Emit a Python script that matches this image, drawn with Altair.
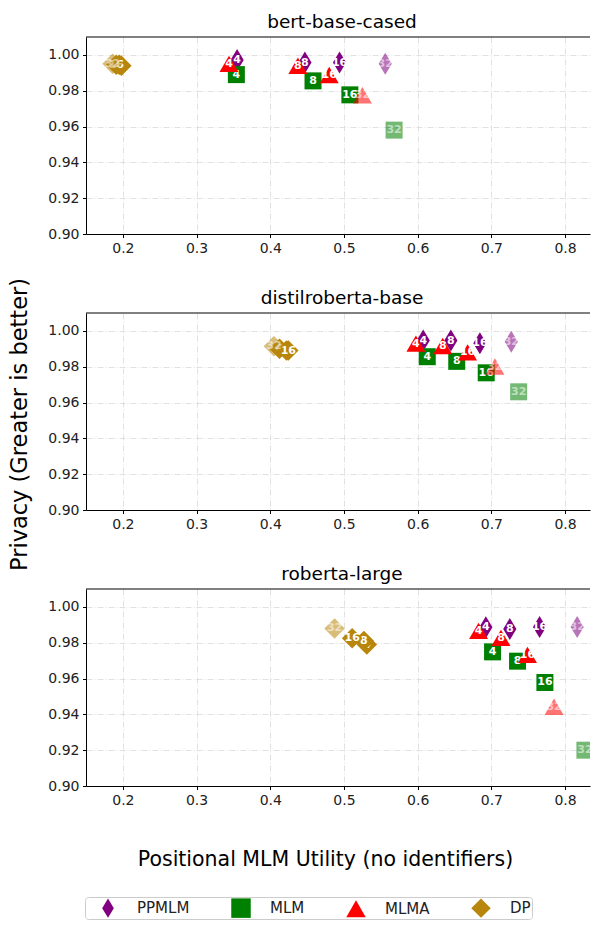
import altair as alt
import pandas as pd

models = ["bert-base-cased", "distilroberta-base", "roberta-large"]
methods = ["PPMLM", "MLM", "MLMA", "DP"]
k_values = [4, 8, 16, 32]
x_title = "Positional MLM Utility (no identifiers)"
y_title = "Privacy (Greater is better)"

# bert-base-cased  (utility x, privacy y) for k = 4, 8, 16, 32
bert_ppmlm_x = [0.355, 0.447, 0.494, 0.556]
bert_ppmlm_y = [0.9972, 0.9957, 0.9957, 0.9950]
bert_mlm_x = [0.354, 0.458, 0.508, 0.568]
bert_mlm_y = [0.9890, 0.9855, 0.9777, 0.9580]
bert_mlma_x = [0.344, 0.4375, 0.480, 0.525]
bert_mlma_y = [0.9950, 0.9939, 0.9888, 0.9775]
bert_dp_x = [0.198, 0.195, 0.191, 0.186]
bert_dp_y = [0.9940, 0.9945, 0.9945, 0.9950]

# distilroberta-base
distil_ppmlm_x = [0.6075, 0.645, 0.6844, 0.727]
distil_ppmlm_y = [0.9946, 0.9946, 0.9931, 0.9940]
distil_mlm_x = [0.613, 0.653, 0.693, 0.737]
distil_mlm_y = [0.9856, 0.9830, 0.9766, 0.9660]
distil_mlma_x = [0.5976, 0.634, 0.6677, 0.7048]
distil_mlma_y = [0.9929, 0.9916, 0.9880, 0.9801]
distil_dp_x = [0.4125, 0.422, 0.4245, 0.405]
distil_dp_y = [0.9900, 0.9890, 0.9890, 0.9915]

# roberta-large
large_ppmlm_x = [0.6925, 0.725, 0.7654, 0.8164]
large_ppmlm_y = [0.9887, 0.9876, 0.9888, 0.9888]
large_mlm_x = [0.7016, 0.7355, 0.7726, 0.8269]
large_mlm_y = [0.9749, 0.9697, 0.9578, 0.9200]
large_mlma_x = [0.6826, 0.713, 0.749, 0.785]
large_mlma_y = [0.9866, 0.9827, 0.9732, 0.9443]
large_dp_x = [0.531, 0.527, 0.5111, 0.4872]
large_dp_y = [0.9790, 0.9810, 0.9825, 0.9880]

x_ticks = [0.2, 0.3, 0.4, 0.5, 0.6, 0.7, 0.8]
y_ticks = [0.90, 0.92, 0.94, 0.96, 0.98, 1.00]

series = {
    "bert-base-cased": {
        "PPMLM": (bert_ppmlm_x, bert_ppmlm_y), "MLM": (bert_mlm_x, bert_mlm_y),
        "MLMA": (bert_mlma_x, bert_mlma_y), "DP": (bert_dp_x, bert_dp_y)},
    "distilroberta-base": {
        "PPMLM": (distil_ppmlm_x, distil_ppmlm_y), "MLM": (distil_mlm_x, distil_mlm_y),
        "MLMA": (distil_mlma_x, distil_mlma_y), "DP": (distil_dp_x, distil_dp_y)},
    "roberta-large": {
        "PPMLM": (large_ppmlm_x, large_ppmlm_y), "MLM": (large_mlm_x, large_mlm_y),
        "MLMA": (large_mlma_x, large_mlma_y), "DP": (large_dp_x, large_dp_y)},
}

marker_area = {"PPMLM": 484, "MLM": 289, "MLMA": 360, "DP": 420}

rows = []
for mdl in models:
    for meth in methods:
        xs, ys = series[mdl][meth]
        for k, xv, yv in zip(k_values, xs, ys):
            rows.append({"model": mdl, "method": meth, "k": k, "label": str(k),
                         "x": xv, "y": yv, "msize": marker_area[meth],
                         "alpha": 0.55 if k == 32 else 1.0})
df = pd.DataFrame(rows)

W, H = 504, 197
FONT = "DejaVu Sans"
thin_diamond = "M0,-1L0.6,0L0,1L-0.6,0Z"

leg = alt.Legend(title=None, orient="none", legendX=-1, legendY=860,
                 direction="horizontal", columns=4, labelFontSize=15,
                 labelOffset=19, columnPadding=29, padding=1, symbolOffset=12,
                 symbolSize=380, strokeColor="#cccccc", cornerRadius=3,
                 fillColor="white", labelColor="#222222", symbolStrokeWidth=0,
                 symbolOpacity=1, labelFont=FONT)

color_enc = alt.Color("method:N", scale=alt.Scale(domain=methods,
                      range=["#800080", "#008000", "#ff0000", "#b8860b"]), legend=leg)
shape_enc = alt.Shape("method:N", scale=alt.Scale(domain=methods,
                      range=[thin_diamond, "square", "triangle-up", "diamond"]), legend=leg)
size_enc = alt.Size("msize:Q", scale=None, legend=None)
op_enc = alt.Opacity("alpha:Q", scale=None, legend=None)

one = pd.DataFrame({"o": [0]})


def label_text(txt, px, py, size, angle=0, baseline="middle"):
    return alt.Chart(one).mark_text(
        text=txt, fontSize=size, font=FONT, color="black", angle=angle,
        align="center", baseline=baseline).encode(x=alt.value(px), y=alt.value(py))


def panel(mdl, idx):
    x_axis = alt.Axis(values=x_ticks, format=".1f", grid=True, title=None)
    y_axis = alt.Axis(values=y_ticks, format=".2f", grid=True, title=None)
    xe = alt.X("x:Q", scale=alt.Scale(domain=[0.15, 0.8338], nice=False, zero=False), axis=x_axis)
    ye = alt.Y("y:Q", scale=alt.Scale(domain=[0.90, 1.01], nice=False, zero=False), axis=y_axis)

    base = alt.Chart(df)
    layers = []
    for meth in methods:
        for k in k_values:
            sub = base.transform_filter(
                (alt.datum.model == mdl) & (alt.datum.method == meth) & (alt.datum.k == k))
            layers.append(sub.mark_point(filled=True, strokeWidth=0, clip=True).encode(
                x=xe, y=ye, color=color_enc, shape=shape_enc, size=size_enc, opacity=op_enc))
            layers.append(sub.mark_text(color="white", fontSize=11, fontWeight="bold", clip=True,
                                        font=FONT, align="center", baseline="middle").encode(
                x=xe, y=ye, text="label:N", opacity=op_enc))
    layers.append(alt.Chart(one).mark_rule(color="black", strokeWidth=1).encode(
        x=alt.value(0), x2=alt.value(W), y=alt.value(0)))
    layers.append(label_text(mdl, 256, -9.5, 18.5, baseline="alphabetic"))
    if idx == 1:
        layers.append(label_text(y_title, -66.5, 111.5, 22.5, angle=270))
    if idx == 2:
        layers.append(label_text(x_title, 239.5, H + 74, 20.5))
    return alt.layer(*layers).properties(width=W, height=H)


chart = alt.vconcat(*[panel(m, i) for i, m in enumerate(models)],
                    spacing=79, bounds="flush").properties(
    padding={"left": 0, "top": 4, "right": 0, "bottom": 0}
).configure_view(stroke=None).configure_axis(
    domainColor="black", domainWidth=1, tickColor="black", tickSize=3.5, tickWidth=1,
    labelFontSize=14, labelColor="#222222", labelFont=FONT, labelPadding=3.5,
    gridColor="#d9d9d9", gridDash=[6, 2, 1, 2], gridWidth=0.8
)

chart.save("out.html", embed_options={"renderer": "svg", "actions": False})
